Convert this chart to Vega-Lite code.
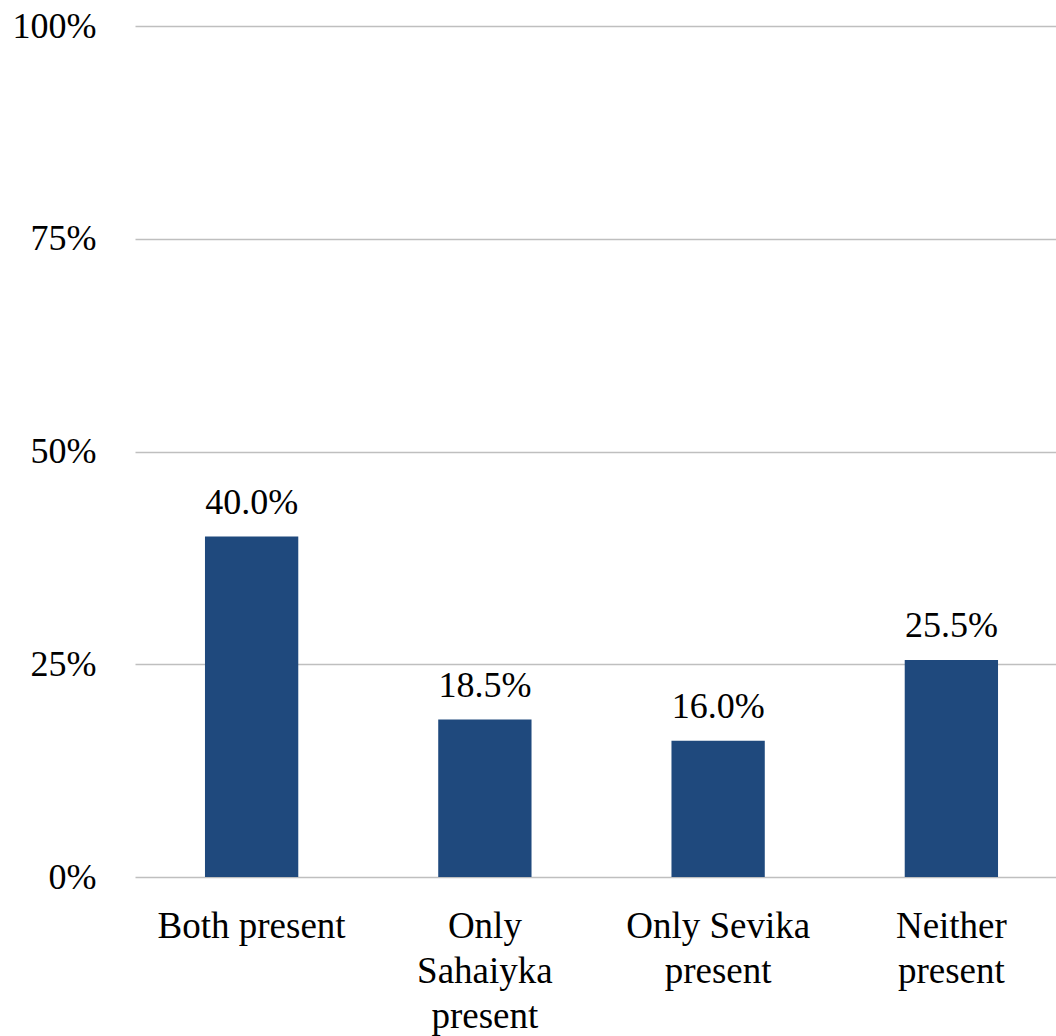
{
  "$schema": "https://vega.github.io/schema/vega-lite/v6.json",
  "width": 921,
  "height": 851,
  "autosize": {"type": "none"},
  "padding": {"left": 135, "top": 26, "right": 0, "bottom": 159},
  "background": "white",
  "config": {
    "view": {"stroke": null},
    "font": "Liberation Serif"
  },
  "data": {
    "values": [
      {"category": "Both present", "value": 0.400},
      {"category": "Only|Sahaiyka|present", "value": 0.185},
      {"category": "Only Sevika|present", "value": 0.160},
      {"category": "Neither|present", "value": 0.255}
    ]
  },
  "encoding": {
    "x": {
      "field": "category",
      "type": "nominal",
      "sort": null,
      "scale": {"range": [0, 933], "paddingInner": 0.6, "paddingOuter": 0.3},
      "axis": {
        "title": null,
        "labelExpr": "split(datum.value, '|')",
        "labelAngle": 0,
        "labelLimit": 0,
        "labelFont": "Liberation Serif",
        "labelFontSize": 37,
        "labelColor": "#000000",
        "labelLineHeight": 45,
        "labelPadding": 31,
        "labelBaseline": "top",
        "ticks": false,
        "domain": false,
        "grid": false
      }
    },
    "y": {
      "field": "value",
      "type": "quantitative",
      "scale": {"domain": [0, 1], "nice": false},
      "axis": {
        "title": null,
        "values": [0, 0.25, 0.5, 0.75, 1],
        "format": ".0%",
        "labelFont": "Liberation Serif",
        "labelFontSize": 36,
        "labelColor": "#000000",
        "labelPadding": 39,
        "labelLimit": 0,
        "ticks": false,
        "domain": false,
        "grid": true,
        "gridColor": "#bfbfbf",
        "gridWidth": 1.3
      }
    }
  },
  "layer": [
    {
      "mark": {"type": "bar", "color": "#1f497d"}
    },
    {
      "mark": {
        "type": "text",
        "baseline": "alphabetic",
        "dy": -23,
        "font": "Liberation Serif",
        "fontSize": 36,
        "color": "#000000"
      },
      "encoding": {
        "text": {"field": "value", "type": "quantitative", "format": ".1%"}
      }
    }
  ]
}
